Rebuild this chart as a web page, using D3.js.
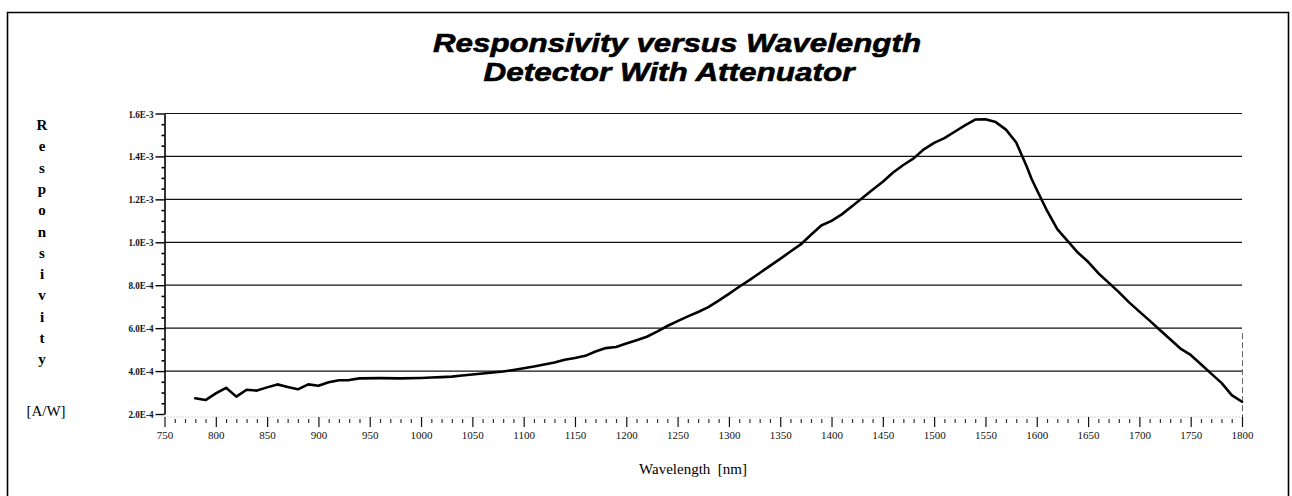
<!DOCTYPE html>
<html>
<head>
<meta charset="utf-8">
<script src="https://cdn.jsdelivr.net/npm/d3@7"></script>
<style>
  html, body { margin: 0; padding: 0; background: #fff; }
  svg { display: block; }
</style>
</head>
<body>
<svg id="chart" width="1292" height="496"></svg>
<script>
// ---- data ----
const wavelengths = [780,790,800,810,820,830,840,850,860,870,880,890,900,910,920,930,940,960,980,1000,
  1010,1020,1030,1040,1050,1060,1070,1080,1090,1100,1110,1120,1130,1140,1150,1160,1170,1180,1190,1200,
  1210,1220,1230,1240,1250,1260,1270,1280,1290,1300,1310,1320,1330,1340,1350,1360,1370,1380,1390,1400,
  1410,1420,1430,1440,1450,1460,1470,1480,1490,1500,1510,1520,1530,1540,1550,1560,1570,1580,1585,1590,
  1595,1600,1610,1620,1630,1640,1650,1660,1670,1680,1690,1700,1710,1720,1730,1740,1750,1760,1770,1780,
  1790,1800];
const responsivityE4 = [2.73,2.65,2.96,3.22,2.81,3.13,3.09,3.24,3.38,3.26,3.15,3.38,3.32,3.48,3.57,3.58,3.66,3.67,3.66,3.68,
  3.70,3.72,3.74,3.79,3.84,3.89,3.93,3.98,4.05,4.13,4.21,4.31,4.40,4.53,4.61,4.71,4.91,5.07,5.12,5.28,
  5.44,5.60,5.84,6.10,6.33,6.55,6.75,6.98,7.28,7.60,7.93,8.24,8.57,8.90,9.23,9.57,9.90,10.35,10.78,11.00,
  11.30,11.68,12.06,12.45,12.82,13.25,13.60,13.91,14.33,14.63,14.85,15.15,15.45,15.72,15.73,15.60,15.25,14.65,14.10,13.55,
  12.95,12.45,11.47,10.61,10.07,9.52,9.09,8.56,8.12,7.68,7.20,6.77,6.35,5.91,5.48,5.05,4.75,4.32,3.88,3.45,
  2.88,2.57];
const responsivity = responsivityE4.map(v => v * 1e-4);

const yTickValues = [2e-4, 4e-4, 6e-4, 8e-4, 1.0e-3, 1.2e-3, 1.4e-3, 1.6e-3];
const yTickLabels = ["2.0E-4","4.0E-4","6.0E-4","8.0E-4","1.0E-3","1.2E-3","1.4E-3","1.6E-3"];
const xTickValues = [750,800,850,900,950,1000,1050,1100,1150,1200,1250,1300,1350,1400,1450,1500,1550,1600,1650,1700,1750,1800];
const xTickLabels = xTickValues.map(String);
const titleLines = ["Responsivity versus Wavelength", "Detector With Attenuator"];
const yTitleLetters = ["R","e","s","p","o","n","s","i","v","i","t","y"];
const yUnit = "[A/W]";
const xTitle = "Wavelength  [nm]";

// ---- layout ----
const svg = d3.select("#chart");
const plotLeft = 164.5, plotRight = 1242, plotTop = 113.5, plotBottom = 414;
const x = d3.scaleLinear().domain([750, 1800]).range([plotLeft, plotRight]);
const y = d3.scaleLinear().domain([2e-4, 1.6e-3]).range([plotBottom, plotTop]);

// outer frame
svg.append("path")
  .attr("d", "M7.5,496 L7.5,12.5 L1288.5,12.5 L1288.5,496")
  .attr("fill", "none").attr("stroke", "#000").attr("stroke-width", 1.6);

// title
const title = svg.append("g")
  .attr("font-family", "'Liberation Sans', Arial, sans-serif")
  .attr("font-weight", "bold").attr("font-style", "italic")
  .attr("font-size", 26.5).attr("fill", "#000")
  .attr("stroke", "#000").attr("stroke-width", 0.6);
title.append("text").attr("x", 677).attr("y", 52).attr("text-anchor", "middle")
  .attr("textLength", 488).attr("lengthAdjust", "spacingAndGlyphs").text(titleLines[0]);
title.append("text").attr("x", 669).attr("y", 81).attr("text-anchor", "middle")
  .attr("textLength", 371).attr("lengthAdjust", "spacingAndGlyphs").text(titleLines[1]);

// gridlines
svg.append("g").selectAll("line")
  .data(yTickValues.filter(v => v > 2e-4))
  .join("line")
  .attr("x1", plotLeft).attr("x2", plotRight)
  .attr("y1", d => y(d)).attr("y2", d => y(d))
  .attr("stroke", "#111").attr("stroke-width", 1.2);

// faint right border (lower part) and dotted baseline
svg.append("line")
  .attr("x1", plotRight + 0.5).attr("x2", plotRight + 0.5)
  .attr("y1", y(6e-4) + 5).attr("y2", plotBottom + 3)
  .attr("stroke", "#666").attr("stroke-width", 1).attr("stroke-dasharray", "6,3");
svg.append("line")
  .attr("x1", plotLeft).attr("x2", plotRight)
  .attr("y1", plotBottom + 3).attr("y2", plotBottom + 3)
  .attr("stroke", "#999").attr("stroke-width", 0.8).attr("stroke-dasharray", "1,2");

// y axis major
const yAxis = d3.axisLeft(y)
  .tickValues(yTickValues)
  .tickFormat((d, i) => yTickLabels[i])
  .tickSize(9).tickSizeOuter(0).tickPadding(2);
const gy = svg.append("g").attr("transform", `translate(${plotLeft},0)`).call(yAxis);
gy.select(".domain").attr("stroke", "#000").attr("stroke-width", 1.6);
gy.selectAll(".tick line").attr("stroke", "#000").attr("stroke-width", 1.4);
gy.selectAll(".tick text")
  .attr("font-family", "'Liberation Serif', 'Times New Roman', serif")
  .attr("font-size", 11).attr("font-weight", "bold").attr("fill", "#111")
  .attr("textLength", 25).attr("lengthAdjust", "spacingAndGlyphs");

// y axis minor
const yMinor = d3.range(2.5e-4, 1.6e-3, 0.5e-4).filter(v => Math.abs((v / 2e-4) - Math.round(v / 2e-4)) > 1e-6);
const gyMinor = svg.append("g").attr("transform", `translate(${plotLeft},0)`)
  .call(d3.axisLeft(y).tickValues(yMinor).tickSize(3).tickFormat(""));
gyMinor.select(".domain").remove();
gyMinor.selectAll(".tick line").attr("stroke", "#000").attr("stroke-width", 1.6);

// x axis major
const xAxis = d3.axisBottom(x)
  .tickValues(xTickValues)
  .tickFormat((d, i) => xTickLabels[i])
  .tickSize(10).tickSizeOuter(0).tickPadding(4);
const gx = svg.append("g").attr("transform", `translate(0,${plotBottom + 3})`).call(xAxis);
gx.select(".domain").remove();
gx.selectAll(".tick line").attr("stroke", "#111").attr("stroke-width", 1.2);
gx.selectAll(".tick text")
  .attr("font-family", "'Liberation Serif', 'Times New Roman', serif")
  .attr("font-size", 11).attr("fill", "#111");

// x axis minor
const xMinor = d3.range(760, 1800, 10).filter(v => v % 50 !== 0);
const gxMinor = svg.append("g").attr("transform", `translate(0,${plotBottom + 5})`)
  .call(d3.axisBottom(x).tickValues(xMinor).tickSize(4).tickFormat(""));
gxMinor.select(".domain").remove();
gxMinor.selectAll(".tick line").attr("stroke", "#333").attr("stroke-width", 1.2);

// curve
const pts = wavelengths.map((w, i) => [w, responsivity[i]]);
svg.append("path")
  .datum(pts)
  .attr("fill", "none").attr("stroke", "#000").attr("stroke-width", 2.6)
  .attr("stroke-linejoin", "round").attr("stroke-linecap", "round")
  .attr("d", d3.line().x(d => x(d[0])).y(d => y(d[1])));

// y title (stacked letters)
const yt = svg.append("g")
  .attr("font-family", "'Liberation Serif', 'Times New Roman', serif")
  .attr("font-size", 15).attr("font-weight", "bold").attr("fill", "#000").attr("text-anchor", "middle");
yt.selectAll("text.l").data(yTitleLetters).join("text").attr("class", "l")
  .attr("x", 42).attr("y", (d, i) => 130 + i * 21.3).text(d => d);
yt.append("text").attr("x", 46).attr("y", 416).attr("font-weight", "normal").text(yUnit);

// x title
svg.append("text")
  .attr("x", 693).attr("y", 474).attr("text-anchor", "middle")
  .attr("font-family", "'Liberation Serif', 'Times New Roman', serif")
  .attr("font-size", 15).attr("fill", "#000")
  .style("white-space", "pre")
  .text(xTitle);
</script>
</body>
</html>
